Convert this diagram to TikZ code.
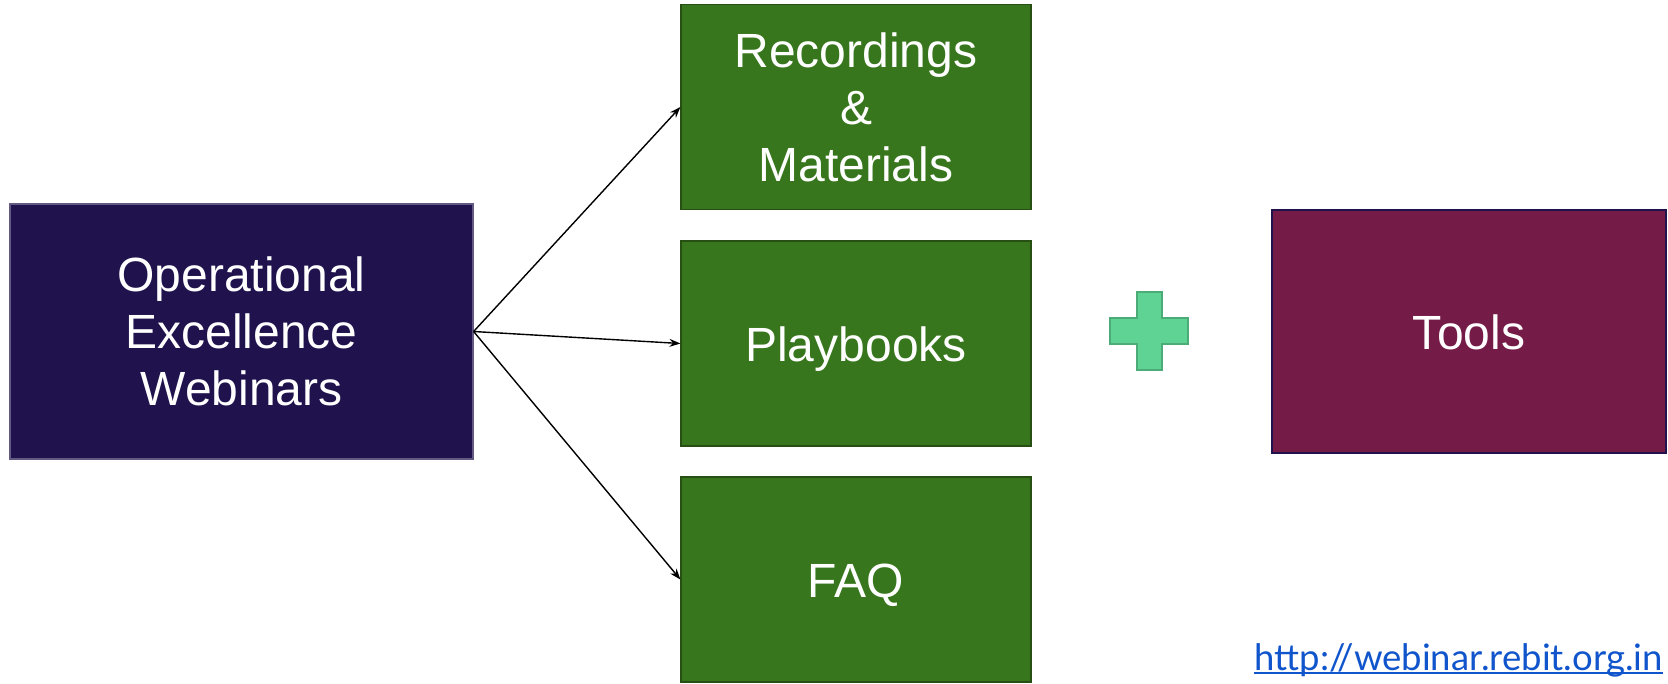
\documentclass[tikz,border=0pt]{standalone}
\usepackage{fontspec}
\setmainfont{Liberation Sans}
\newfontfamily\urlfont{Lato}
\usetikzlibrary{arrows.meta}
\definecolor{navybox}{HTML}{20124D}
\definecolor{greenbox}{HTML}{38761D}
\definecolor{greenedge}{HTML}{274E13}
\definecolor{magbox}{HTML}{741B47}
\definecolor{plusfill}{HTML}{5FD394}
\definecolor{plusedge}{HTML}{4CAC78}
\definecolor{linkblue}{HTML}{1155CC}
\tikzset{
  boxbase/.style={rectangle, inner sep=0pt, text=white, align=center,
    font=\fontsize{48}{57}\selectfont, line width=1.2pt},
  srcbox/.style={boxbase, fill=navybox, draw=navybox!70!white,
    minimum width=463pt, minimum height=255pt},
  itembox/.style={boxbase, fill=greenbox, draw=greenedge,
    minimum width=350pt, minimum height=205pt},
  toolbox/.style={boxbase, fill=magbox, draw=navybox,
    minimum width=394pt, minimum height=243pt},
  onelinetext/.style={text height=35pt, text depth=0pt},
  conn/.style={draw=black, line width=1.4pt, -{Stealth[length=11pt,width=8pt]}},
  plusmark/.style={fill=plusfill, draw=plusedge, line width=1.5pt},
  linktext/.style={text=linkblue, inner sep=0pt, font=\urlfont\fontsize{36.5}{40}\selectfont}
}
\begin{document}
\begin{tikzpicture}[x=1pt,y=-1pt]
\useasboundingbox (0,0) rectangle (1668,683);
\node[srcbox] (src) at (241.5,331.5) {Operational\\Excellence\\Webinars};
\node[itembox] (rec) at (856,107) {Recordings\\\&\\Materials};
\node[itembox, onelinetext] (play) at (856,343.5) {Playbooks};
\node[itembox, onelinetext] (faq) at (856,579.5) {FAQ};
\node[toolbox, onelinetext] (tools) at (1469,331.5) {Tools};
\draw[conn] (src.east) -- (rec.west);
\draw[conn] (src.east) -- (play.west);
\draw[conn] (src.east) -- (faq.west);
\draw[plusmark] (1137,292) -- (1162,292) -- (1162,318) -- (1188,318) -- (1188,344)
  -- (1162,344) -- (1162,370) -- (1137,370) -- (1137,344) -- (1110,344)
  -- (1110,318) -- (1137,318) -- cycle;
\node[linktext, anchor=base east] (url) at (1663,670) {http://webinar.rebit.org.in};
\draw[linkblue, line width=2pt] ([yshift=-3pt]url.base west) -- ([yshift=-3pt]url.base east);
\end{tikzpicture}
\end{document}
